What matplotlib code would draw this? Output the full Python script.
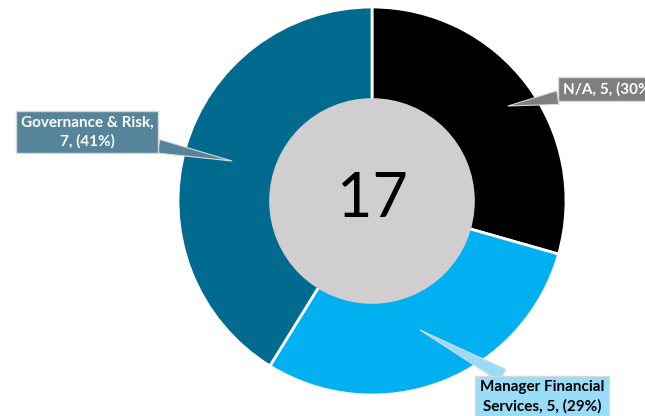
import matplotlib
matplotlib.use("Agg")
import matplotlib.pyplot as plt
from matplotlib.patches import Circle

# data
categories = ["N/A", "Manager Financial\nServices", "Governance & Risk"]
counts = [5, 5, 7]
pct_labels = ["30%", "29%", "41%"]
slice_colors = ["#000000", "#00B0F0", "#006A8F"]
box_colors = ["#7F7F7F", "#99DCF7", "#56849A"]
text_colors = ["white", "black", "white"]
total = sum(counts)

W, H = 645, 416
CX, CY, R = 372, 201, 194  # pixel centre / radius of the donut


def px(x, y):
    # pixel position (from top-left) -> data coordinates
    return (x - CX) / R, (CY - y) / R


fig = plt.figure(figsize=(W / 100, H / 100), dpi=100)
ax = fig.add_axes([0, 0, 1, 1])

wedges, _ = ax.pie(counts, colors=slice_colors, startangle=90, counterclock=False,
                   radius=1.0, wedgeprops=dict(edgecolor="white", linewidth=2))

# grey centre
ax.add_patch(Circle((0, 0), 0.53, facecolor="#D0CECE", edgecolor="none", zorder=5))
ax.text(0, 0.01, str(total), ha="center", va="center", fontsize=44,
        family="Lato", color="black", zorder=6)

# callout labels
label_text = [
    f"N/A, {counts[0]}, ({pct_labels[0]})",
    f"Manager Financial\nServices, {counts[1]}, ({pct_labels[1]})",
    f"Governance & Risk,\n{counts[2]}, ({pct_labels[2]})",
]
text_pos = [px(563, 89), px(542, 397), px(87, 132)]
tips = [px(508, 106), px(420, 330), px(232, 161)]
aligns = ["left", "center", "center"]

for i in range(3):
    ax.annotate(label_text[i], xy=tips[i], xytext=text_pos[i],
                ha=aligns[i], va="center", fontsize=11, fontweight="bold",
                family="Lato", color=text_colors[i], linespacing=1.4, zorder=10,
                bbox=dict(boxstyle="square,pad=0.3", fc=box_colors[i],
                          ec="#D9D9D9", lw=1),
                arrowprops=dict(arrowstyle="wedge,tail_width=0.9", fc=box_colors[i],
                                ec="#D9D9D9", lw=0.8, shrinkA=0, shrinkB=0))

ax.set_xlim(-CX / R, (W - CX) / R)
ax.set_ylim(-(H - CY) / R, CY / R)
ax.set_aspect("auto")
ax.axis("off")

fig.savefig("out.png", dpi=100)
